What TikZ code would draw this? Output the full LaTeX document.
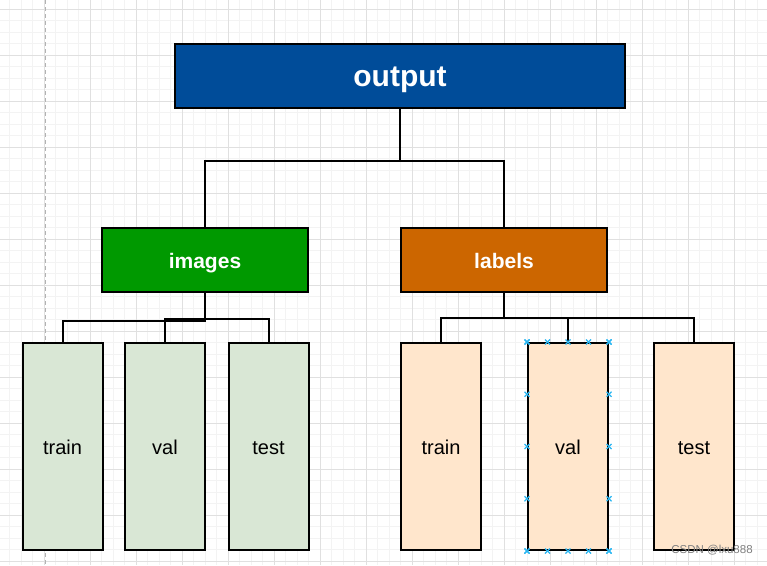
\documentclass[tikz,border=0pt]{standalone}
\usepackage{fontspec}
\setmainfont{Liberation Sans}
\usetikzlibrary{calc}
\definecolor{outblue}{HTML}{004C99}
\definecolor{imggreen}{HTML}{009900}
\definecolor{laborange}{HTML}{CC6600}
\definecolor{leafgreen}{HTML}{D9E7D5}
\definecolor{leaforange}{HTML}{FFE6CC}
\definecolor{gridminor}{HTML}{F3F3F3}
\definecolor{gridmajor}{HTML}{E0E0E0}
\definecolor{selblue}{HTML}{29B6F2}
\begin{document}
\begin{tikzpicture}[x=1pt,y=-1pt,
  box/.style={draw=black, line width=2pt, rectangle, inner sep=0pt},
  head/.style={box, text=white, font=\bfseries\fontsize{21}{25}\selectfont, minimum width=206pt, minimum height=64pt, text height=20pt, text depth=4pt},
  leaf/.style={box, text=black, font=\fontsize{20}{24}\selectfont, minimum width=80pt, minimum height=207pt, text height=19pt, text depth=4pt},
  conn/.style={draw=black, line width=2pt},
  minorline/.style={draw=gridminor, line width=1pt},
  majorline/.style={draw=gridmajor, line width=1pt},
  selmark/.style={draw=selblue, line width=1.1pt}
]
\useasboundingbox (0,0) rectangle (767,565);
\fill[white] (0,0) rectangle (767,565);
\begin{scope}
\clip (0,0) rectangle (767,565);
\foreach \i in {0,...,67} \draw[minorline] ({9.5+11.5*\i},0) -- ++(0,565);
\foreach \i in {0,...,50} \draw[minorline] (0,{-2.2+11.5*\i}) -- ++(767,0);
\foreach \i in {0,...,16} \draw[majorline] ({44+46*\i},0) -- ++(0,565);
\foreach \i in {0,...,12} \draw[majorline] (0,{9.3+46*\i}) -- ++(767,0);
\draw[draw=gray!60, line width=1pt, dash pattern=on 4pt off 3pt] (45,0) -- (45,565);
\end{scope}

\node[box, fill=outblue, text=white, font=\bfseries\fontsize{30}{36}\selectfont, minimum width=450pt, minimum height=64pt, text height=26pt, text depth=6pt] (out) at (400,76) {output};
\node[head, fill=imggreen] (img) at (205,260) {images};
\node[head, fill=laborange] (lab) at (504,260) {labels};

\node[leaf, fill=leafgreen] (gtrain) at (62.5,446.5) {train};
\node[leaf, fill=leafgreen] (gval) at (165,446.5) {val};
\node[leaf, fill=leafgreen] (gtest) at (268.5,446.5) {test};

\node[leaf, fill=leaforange] (otrain) at (441,446.5) {train};
\node[leaf, fill=leaforange] (oval) at (568,446.5) {val};
\node[leaf, fill=leaforange] (otest) at (694,446.5) {test};

\draw[conn] (out.south) -- ++(0,52) -| (img.north);
\draw[conn] (out.south) -- ++(0,52) -| (lab.north);

\draw[conn] (img.south) -- ++(0,28) -| (gtrain.north);
\draw[conn] (img.south) -- ++(0,26) -| (gval.north);
\draw[conn] (img.south) -- ++(0,26) -| (gtest.north);

\draw[conn] (lab.south) -- ++(0,25) -| (otrain.north);
\draw[conn] (lab.south) -- ++(0,25) -| (oval.north);
\draw[conn] (lab.south) -- ++(0,25) -| (otest.north);

% selection handles on the orange val box
\foreach \t in {0,0.25,0.5,0.75,1} {
  \coordinate (m1) at ($(oval.north west)!\t!(oval.north east)$);
  \coordinate (m2) at ($(oval.south west)!\t!(oval.south east)$);
  \coordinate (m3) at ($(oval.north west)!\t!(oval.south west)$);
  \coordinate (m4) at ($(oval.north east)!\t!(oval.south east)$);
  \foreach \m in {m1,m2,m3,m4} {
    \draw[selmark] ($(\m)+(-2.5,-2.5)$) -- ($(\m)+(2.5,2.5)$);
    \draw[selmark] ($(\m)+(-2.5,2.5)$) -- ($(\m)+(2.5,-2.5)$);
  }
}

\node[text=black!50, font=\fontsize{11.5}{13}\selectfont, inner sep=0pt] (wm) at (712,550) {CSDN @lxu888};
\end{tikzpicture}
\end{document}
